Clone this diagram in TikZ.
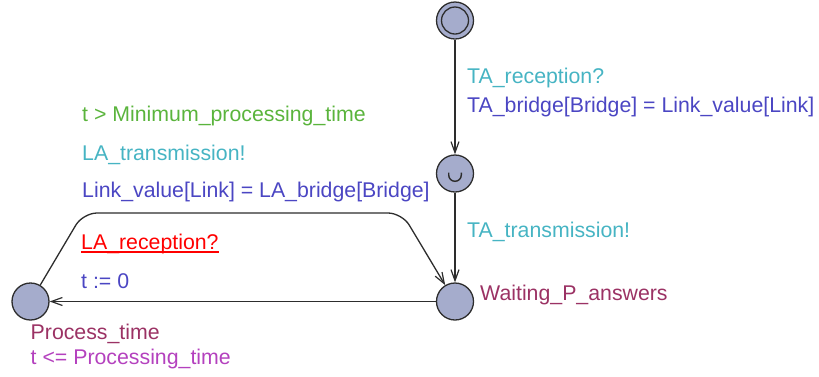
\documentclass[tikz,border=0pt]{standalone}
\usepackage{fontspec}
\setmainfont{Liberation Sans}
\usetikzlibrary{arrows.meta}
\definecolor{locfill}{RGB}{165,172,204}
\definecolor{edgecol}{RGB}{45,45,45}
\definecolor{guardcol}{RGB}{90,180,60}
\definecolor{synccol}{RGB}{70,180,195}
\definecolor{updcol}{RGB}{75,70,195}
\definecolor{namecol}{RGB}{155,50,100}
\definecolor{invcol}{RGB}{180,65,190}
\begin{document}
\begin{tikzpicture}[x=1pt,y=-1pt,
  loc/.style={circle,draw=edgecol,fill=locfill,line width=1.3pt,minimum size=37pt,inner sep=0pt},
  edge/.style={draw=edgecol,line width=1.3pt,-{Straight Barb[length=11pt,width=8pt,line width=1.2pt]}},
  lbl/.style={anchor=base west,inner sep=0pt,font=\fontsize{21.3}{25}\selectfont}]
\useasboundingbox (0,0) rectangle (819,376);
% locations
\node[loc] (ini) at (455,20.5) {};
\draw[edgecol,line width=1.3pt] (ini.center) circle (13.5pt);
\node[loc] (com) at (455,173.5) {};
\draw[edgecol,line width=1.4pt] ([xshift=-6.3pt,yshift=1pt]com.center) -- ++(0,2.5) arc[start angle=180,end angle=360,radius=6.3pt] -- ++(0,-2.5);
\node[loc] (wait) at (455,301.5) {};
\node[loc] (proc) at (30.5,301.5) {};
% edges
\draw[edge] (ini) -- (com);
\draw[edge] (com) -- (wait);
\draw[edge] (wait) -- (proc);
\draw[edge,rounded corners=14pt] (proc) -- (83,213) -- (402,213) -- (wait);
% labels
\node[lbl,text=synccol] (l1) at (467,83) {TA\_reception?};
\node[lbl,text=updcol] (l2) at (467,112) {TA\_bridge[Bridge] = Link\_value[Link]};
\node[lbl,text=synccol] (l3) at (467,237) {TA\_transmission!};
\node[lbl,text=namecol] (l4) at (480,300) {Waiting\_P\_answers};
\node[lbl,text=guardcol] (l5) at (82,121) {t > Minimum\_processing\_time};
\node[lbl,text=synccol] (l6) at (82,160) {LA\_transmission!};
\node[lbl,text=updcol] (l7) at (82,197) {Link\_value[Link] = LA\_bridge[Bridge]};
\node[lbl,text=red] (l8) at (81,249) {LA\_reception?};
\draw[red,line width=1.4pt] ([yshift=-3pt]l8.base west) -- ([yshift=-3pt]l8.base east);
\node[lbl,text=updcol] (l9) at (81,288) {t := 0};
\node[lbl,text=namecol] (l10) at (30.5,339.5) {Process\_time};
\node[lbl,text=invcol] (l11) at (30.5,364.5) {t <= Processing\_time};
\end{tikzpicture}
\end{document}
